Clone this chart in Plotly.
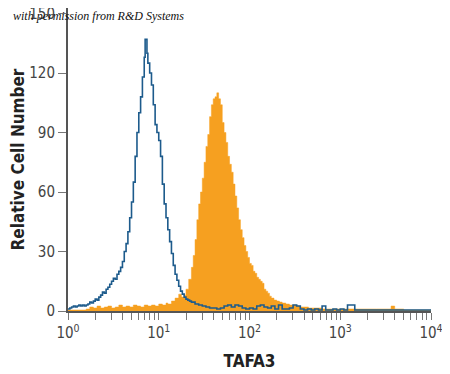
import plotly.graph_objects as go

# log10 fluorescence positions (bin left edges) and counts
blue_log = [0.00,0.02,0.04,0.06,0.08,0.10,0.12,0.14,0.16,0.18,0.20,0.22,0.24,0.26,0.28,0.30,0.32,0.34,0.36,0.38,
            0.40,0.42,0.44,0.46,0.48,0.50,0.52,0.54,0.56,0.58,0.60,0.62,0.64,0.66,0.68,0.70,0.72,0.74,0.76,0.78,
            0.80,0.82,0.84,0.85,0.86,0.87,0.88,0.90,0.92,0.94,0.96,0.98,1.00,1.02,1.04,1.06,1.08,1.10,1.12,1.14,
            1.16,1.18,1.20,1.22,1.24,1.26,1.28,1.30,1.32,1.34,1.36,1.40,1.44,1.48,1.52,1.56,1.60,1.64,1.68,1.72,
            1.76,1.80,1.84,1.88,1.92,1.96,2.00,2.04,2.08,2.12,2.16,2.20,2.24,2.28,2.32,2.36,2.40,2.44,2.48,2.52,
            2.56,2.60,2.64,2.68,2.72,2.76,2.80,2.84,2.88,2.92,2.96,3.00,3.04,3.08,3.12,3.16,3.20,3.40,3.60,3.80,4.00]
blue_count = [1,1.5,2,2.5,2,2.5,3,2.5,3,2.5,3,3.5,4.5,4,5,6,5.5,7,8,9.5,
              9,11,12,13.5,15,16.5,16,18.5,20,22,25,30,34,40,47,55,65,78,90,100,
              108,118,128,137,137,130,125,120,114,104,94,90,86,78,64,54,47,41,35,29,
              23,18.5,15.5,12.5,10,8.5,7,6,5.5,5,4.5,3.5,3,2.5,2,1.5,1.5,1,1.5,2.5,
              3,2,3,2.5,1.5,1,1.5,1,2.5,3,2,1.5,2.5,1,3,1,1,1.5,3,2.5,
              1,0.5,1,0.5,1,0.5,2.5,0.5,0.5,1,0.5,1,0.5,3,3,0.5,0.5,0.5,0.5,0.5,0.5]

orange_log = [0.00,0.10,0.20,0.24,0.28,0.32,0.36,0.40,0.44,0.48,0.52,0.56,0.60,0.64,0.68,0.72,0.76,0.80,0.84,0.88,
              0.92,0.96,1.00,1.04,1.08,1.10,1.14,1.18,1.22,1.25,1.28,1.30,1.33,1.36,1.38,1.40,1.42,1.44,1.46,1.48,
              1.50,1.52,1.54,1.56,1.58,1.60,1.62,1.64,1.66,1.68,1.70,1.72,1.74,1.76,1.78,1.80,1.82,1.84,1.86,1.88,
              1.90,1.92,1.94,1.96,1.98,2.00,2.02,2.04,2.06,2.08,2.10,2.12,2.14,2.16,2.18,2.20,2.22,2.24,2.27,2.30,
              2.33,2.36,2.40,2.44,2.48,2.52,2.56,2.60,2.65,2.70,2.80,2.90,3.00,3.20,3.40,3.53,3.56,3.60,3.70,4.00]
orange_count = [0.5,0.5,1,2,1.5,2.5,1.5,2,2.5,1.5,2,3,2,2.5,2,3,2.5,2,3,2.5,
                3,2.5,3.5,3,4,3.5,5,6.5,8.5,7,8,11,16,22,28,36,46,54,60,67,
                75,83,89,98,104,107,108,110,107,104,95,90,85,78,74,70,64,58,52,46,
                41,37,33,30,27,24,23,20,19,17,16,15,14,11,10,9,7.5,6.5,5.5,5,
                4.5,4,3.5,3,3,2.5,2,2,1.5,1.5,1,1,1,1,1,1,2.5,1,0.5,0.5]

x_tick_vals = [1, 10, 100, 1000, 10000]
x_tick_text = ["10<sup>0</sup>", "10<sup>1</sup>", "10<sup>2</sup>", "10<sup>3</sup>", "10<sup>4</sup>"]
y_tick_vals = [0, 30, 60, 90, 120, 150]

orange_x = [10 ** v for v in orange_log]
blue_x = [10 ** v for v in blue_log]

fig = go.Figure()
fig.add_trace(go.Scatter(
    x=orange_x, y=orange_count, mode="lines", line=dict(shape="hv", color="#f6a020", width=0.5),
    fill="tozeroy", fillcolor="#f6a020", hoverinfo="skip"))
fig.add_trace(go.Scatter(
    x=blue_x, y=blue_count, mode="lines", line=dict(shape="hv", color="#1d5b8c", width=1.6),
    hoverinfo="skip"))

font_main = "Liberation Sans Narrow, DejaVu Sans Condensed, Arial Narrow, sans-serif"

# page has an 8px body margin, so the figure is sized to fill the remaining window
fig.update_layout(
    width=442, height=366,
    margin=dict(l=60, r=19, t=0, b=63, autoexpand=False),
    paper_bgcolor="white", plot_bgcolor="white",
    showlegend=False,
    font=dict(family=font_main, size=15, color="#333333"),
    xaxis=dict(
        type="log", range=[0, 4], tickvals=x_tick_vals, ticktext=x_tick_text, automargin=False,
        ticks="outside", ticklen=7, tickcolor="#777777", tickwidth=1,
        showline=True, linecolor="#555555", linewidth=2, showgrid=False, zeroline=False,
        minor=dict(ticks="outside", ticklen=7, tickcolor="#777777", dtick="D1", showgrid=False),
        title=dict(text="<b>TAFA3</b>", font=dict(family=font_main, size=17, color="#222222"), standoff=14),
        tickfont=dict(family=font_main, size=15, color="#444444"),
    ),
    yaxis=dict(
        range=[0, 152.8], tickvals=y_tick_vals, ticks="outside", ticklen=8, tickcolor="#777777",
        automargin=False, ticklabeloverflow="allow",
        showline=True, linecolor="#555555", linewidth=2, showgrid=False, zeroline=False,
        title=dict(text="<b>Relative Cell Number</b>", font=dict(family=font_main, size=17, color="#222222"), standoff=4),
        tickfont=dict(family=font_main, size=15, color="#444444"),
    ),
    annotations=[dict(
        text="<i>with permission from R&amp;D Systems</i>", xref="paper", yref="paper",
        x=-0.158, y=0.975, xanchor="left", yanchor="middle", showarrow=False,
        font=dict(family="Liberation Serif, DejaVu Serif, serif", size=12, color="#111111"))],
)

fig.write_html("out.html")
